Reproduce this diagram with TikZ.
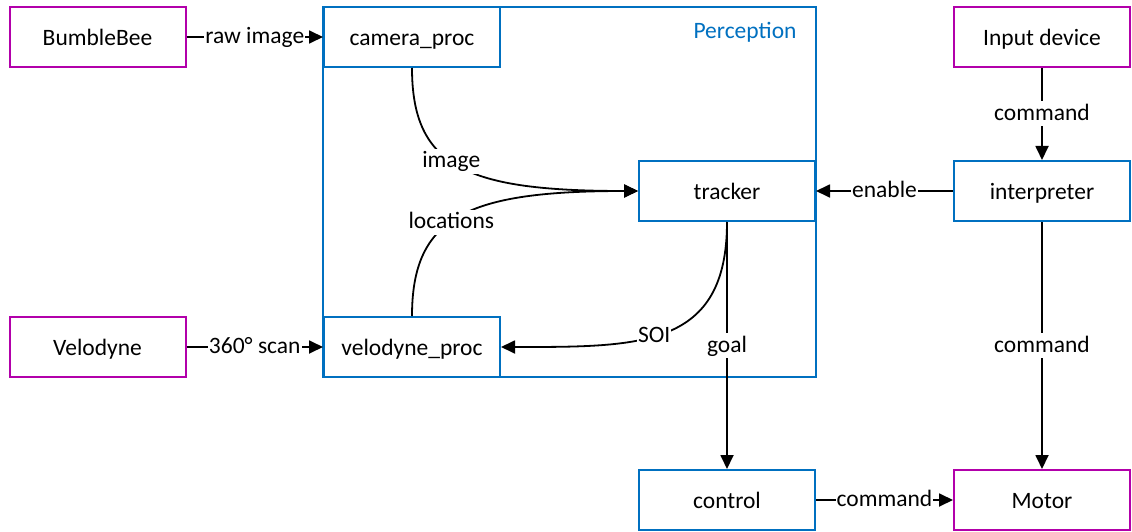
\documentclass[tikz,border=0pt]{standalone}
\usepackage{fontspec}
\setmainfont{Carlito}
\usetikzlibrary{arrows.meta}
\definecolor{procblue}{RGB}{0,112,192}
\definecolor{devmag}{RGB}{178,0,170}
\begin{document}
\begin{tikzpicture}[x=1pt, y=-1pt,
  font=\fontsize{23.5}{28}\selectfont,
  box/.style={draw, line width=2pt, minimum width=176pt, minimum height=60pt,
              inner sep=0pt, fill=white, text height=20pt, text depth=3pt},
  proc/.style={box, draw=procblue},
  dev/.style={box, draw=devmag},
  link/.style={line width=1.8pt, -{Triangle[length=14pt,width=13pt]}},
  lbl/.style={fill=white, inner sep=1pt, text height=18pt, text depth=5pt}]
\useasboundingbox (0,0) rectangle (1132,532);

% Perception container
\node (perception) [draw=procblue, line width=1.2pt, minimum width=493pt,
      minimum height=370pt, inner sep=0pt] at (569.5,192) {};
\node (perclabel) [text=procblue, text height=20pt, text depth=3pt] at (745,30) {Perception};

% devices
\node (bumble) [dev] at (97.5,37) {BumbleBee};
\node (velo)   [dev] at (97.5,347) {Velodyne};
\node (input)  [dev] at (1042,37) {Input device};
\node (motor)  [dev] at (1042,500) {Motor};

% processing nodes
\node (camera)  [proc] at (412,37)  {camera\_proc};
\node (vproc)   [proc] at (412,347) {velodyne\_proc};
\node (tracker) [proc] at (727,191) {tracker};
\node (interp)  [proc] at (1042,191) {interpreter};
\node (control) [proc] at (727,500) {control};

% connectors
\draw[link] (bumble) -- node[lbl] {raw image} (camera);
\draw[link] (velo) -- node[lbl] {360° scan} (vproc);
\draw[link] (camera.south) .. controls +(0,100) and +(-170,0) ..
      node[lbl, pos=0.45] {image} (tracker.west);
\draw[link] (vproc.north) .. controls +(0,-100) and +(-170,0) ..
      node[lbl, pos=0.45] {locations} (tracker.west);
\draw[link] (tracker.south) .. controls +(0,126) and +(140,0) ..
      node[lbl, pos=0.55] {SOI} (vproc.east);
\draw[link] (tracker) -- node[lbl] {goal} (control);
\draw[link] (interp) -- node[lbl] {enable} (tracker);
\draw[link] (input) -- node[lbl] {command} (interp);
\draw[link] (interp) -- node[lbl] {command} (motor);
\draw[link] (control) -- node[lbl] {command} (motor);
\end{tikzpicture}
\end{document}
